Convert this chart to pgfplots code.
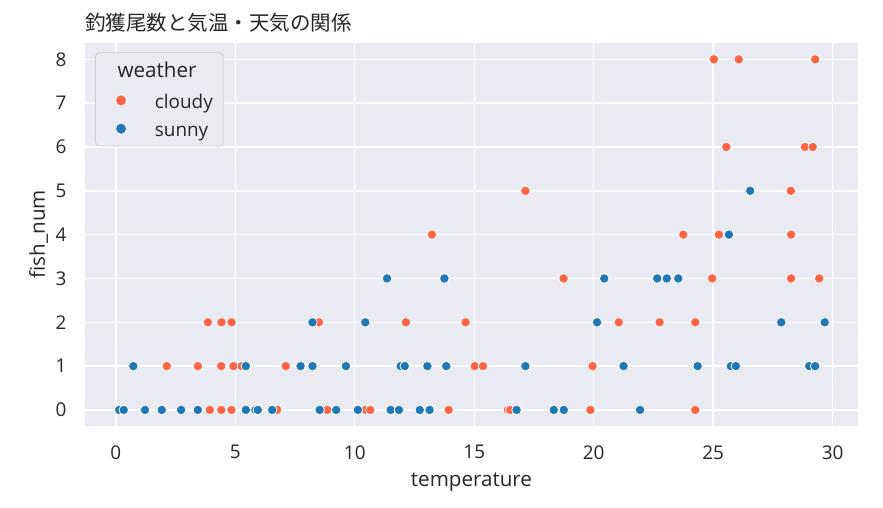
\documentclass[border=0pt]{standalone}
\usepackage{fontspec}
\setmainfont{Open Sans}
\newfontfamily\cjk{Noto Sans CJK JP}
\usepackage{pgfplots}
\pgfplotsset{compat=1.18}
\usepackage{pgfplotstable}
\definecolor{bgc}{HTML}{EAEAF2}
\definecolor{txt}{HTML}{262626}
\definecolor{cloudyc}{HTML}{FC6446}
\definecolor{sunnyc}{HTML}{1F77B4}
\definecolor{legedge}{HTML}{CCCCCC}

\pgfplotstableread{
x y
3.93 0
4.41 0
4.84 0
6.75 0
8.85 0
10.45 0
10.65 0
13.93 0
16.41 0
16.51 0
19.86 0
24.25 0
2.13 1
3.43 1
4.41 1
4.92 1
5.27 1
7.11 1
15.02 1
15.37 1
19.95 1
3.85 2
4.42 2
4.84 2
8.50 2
12.14 2
14.64 2
21.05 2
22.76 2
24.25 2
18.74 3
24.96 3
28.26 3
29.44 3
13.23 4
23.75 4
25.24 4
28.26 4
17.14 5
28.25 5
25.55 6
28.84 6
29.17 6
25.03 8
26.07 8
29.27 8
}\cloudy

\pgfplotstableread{
x y
0.14 0
0.33 0
1.22 0
1.92 0
2.73 0
3.43 0
5.44 0
5.84 0
5.94 0
6.54 0
8.53 0
9.22 0
10.13 0
11.50 0
11.85 0
12.72 0
13.13 0
16.77 0
18.33 0
18.75 0
21.94 0
0.73 1
5.44 1
7.73 1
8.23 1
9.63 1
11.92 1
12.09 1
13.04 1
13.83 1
17.14 1
21.25 1
24.35 1
25.74 1
25.95 1
29.02 1
29.27 1
8.23 2
10.44 2
20.14 2
27.85 2
29.67 2
11.35 3
13.75 3
20.44 3
22.66 3
23.06 3
23.54 3
25.66 4
26.55 5
}\sunny

\begin{document}
\begin{tikzpicture}
\useasboundingbox (-85.3pt,-81.3pt) rectangle (797.7pt,425.7pt);
\begin{axis}[
  at={(0,0)}, anchor=south west,
  scale only axis,
  width=772.4pt, height=383pt,
  xmin=-1.28, xmax=31.05,
  ymin=-0.36, ymax=8.38,
  axis background/.style={fill=bgc},
  axis line style={draw=none},
  major tick length=0pt,
  grid=major,
  major grid style={white, line width=1.4pt},
  xtick={0,5,10,15,20,25,30},
  ytick={0,1,2,3,4,5,6,7,8},
  /pgf/number format/assume math mode=true,
  tick label style={font=\fontsize{18.9}{22}\selectfont, text=txt, inner sep=0pt},
  xticklabel style={anchor=north, yshift=-19.5pt},
  yticklabel style={anchor=east, xshift=-18.6pt},
  every axis x label/.style={at={(axis description cs:0.5,0)}, yshift=-61pt, anchor=base, font=\fontsize{20.6}{24}\selectfont, text=txt, inner sep=0pt},
  every axis y label/.style={at={(axis description cs:0,0.5)}, xshift=-40.3pt, rotate=90, anchor=base, font=\fontsize{20.6}{24}\selectfont, text=txt, inner sep=0pt},
  xlabel={temperature},
  ylabel={fish\_num},
  legend cell align=left,
  legend style={at={(0,1)}, anchor=north west, xshift=9.7pt, yshift=-9.6pt,
    fill=bgc, draw=legedge, rounded corners=4pt, line width=0.8pt,
    font=\fontsize{18.9}{22}\selectfont, text=txt,
    inner sep=0pt, row sep=0pt, column sep=0pt,
    nodes={inner sep=0pt, text depth={}, text height={}}},
  legend image code/.code={%
    \path[draw=none, fill=none] (0pt,-1pt) rectangle (59.5pt,1pt);
    \draw[#1, /tikz/mark size=5.6pt] plot coordinates {(25.7pt,0pt)};},
  clip=false,
]
\addlegendimage{empty legend}
\addlegendentry{\raisebox{0pt}[24.4pt][12.4pt]{\hspace*{-37.3pt}\fontsize{20.6}{24}\selectfont weather}}
\addplot[only marks, mark=*, mark size=4.8pt, draw=white, line width=0.8pt, fill=cloudyc] table[x=x,y=y] {\cloudy};
\addlegendentry{\raisebox{0pt}[19.2pt][2.6pt]{cloudy\hspace*{10.5pt}}}
\addplot[only marks, mark=*, mark size=4.8pt, draw=white, line width=0.8pt, fill=sunnyc] table[x=x,y=y] {\sunny};
\addlegendentry{\raisebox{0pt}[24.8pt][10pt]{sunny}}
\node[anchor=base west, inner sep=0pt, text=txt, font=\cjk\fontsize{20.5}{24}\selectfont] at (rel axis cs:0,1) [yshift=11.7pt] {釣獲尾数と気温・天気の関係};
\end{axis}
\end{tikzpicture}
\end{document}
